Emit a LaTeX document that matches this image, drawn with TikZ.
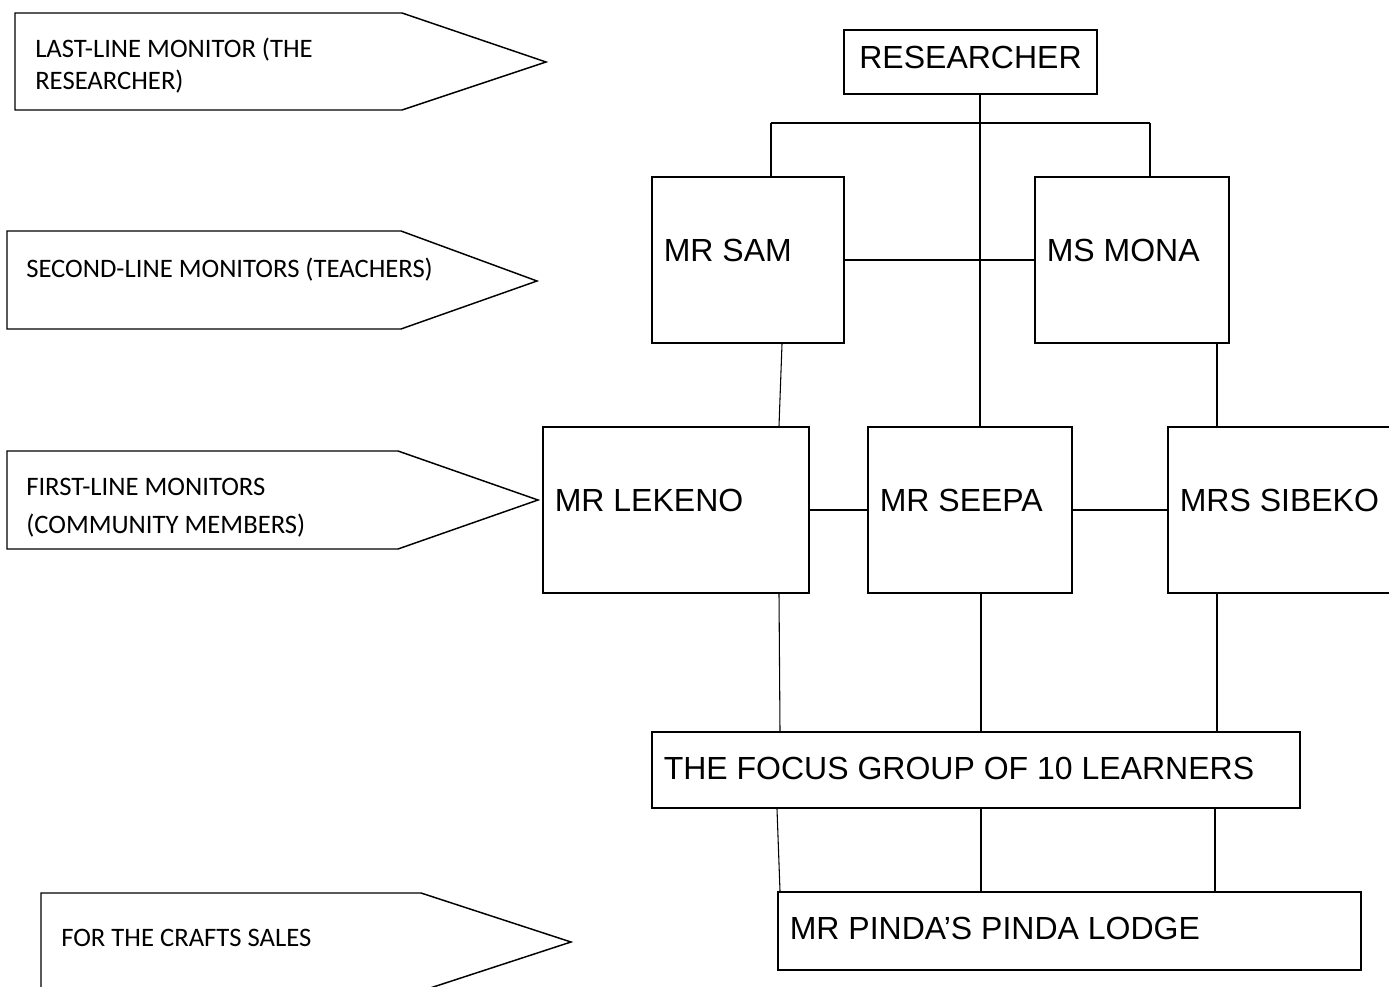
\documentclass[tikz,border=0pt]{standalone}
\usepackage{fontspec}
\setmainfont{Liberation Sans}
\newfontfamily\calfont{Carlito}
\usetikzlibrary{calc}
\begin{document}
\begin{tikzpicture}[x=0.75pt,y=-0.75pt,
  box/.style={draw, line width=1.5pt, inner sep=0pt},
  lbl/.style={anchor=west, inner sep=0pt, font=\fontsize{24}{28}\selectfont, xshift=9.4pt},
  conn/.style={line width=0.8pt},
  tag/.style={draw, line width=1.1pt, line join=miter},
  tagtext/.style={anchor=west, align=left, inner sep=0pt, font=\calfont\fontsize{20}{24}\selectfont}]
\useasboundingbox (0,0) rectangle (1389,987);
\clip (0,0) rectangle (1389,987);

% boxes
\node[box, minimum width=189.75pt, minimum height=48pt,
  label={[inner sep=0pt, font=\fontsize{24}{28}\selectfont, yshift=3.75pt]center:RESEARCHER}] (res) at (970.5,62) {};
\node[box, minimum width=144pt, minimum height=124.5pt,
  label={[lbl, yshift=7.5pt]west:MR SAM}] (sam) at (748,260) {};
\node[box, minimum width=145.5pt, minimum height=124.5pt,
  label={[lbl, yshift=7.5pt]west:MS MONA}] (mona) at (1132,260) {};
\node[box, minimum width=199.5pt, minimum height=124.5pt,
  label={[lbl, yshift=7.5pt]west:MR LEKENO}] (lek) at (676,510) {};
\node[box, minimum width=153pt, minimum height=124.5pt,
  label={[lbl, yshift=7.5pt]west:MR SEEPA}] (seepa) at (970,510) {};
\node[box, minimum width=174pt, minimum height=124.5pt,
  label={[lbl, yshift=7.5pt]west:MRS SIBEKO}] (sib) at (1284,510) {};
\node[box, minimum width=486pt, minimum height=57pt,
  label={[lbl, yshift=1.5pt]west:THE FOCUS GROUP OF 10 LEARNERS}] (focus) at (976,770) {};
\node[box, minimum width=437.25pt, minimum height=58.5pt,
  label={[lbl, yshift=2.25pt]west:MR PINDA’S PINDA LODGE}] (pinda) at (1069.5,931) {};

% connectors
\coordinate (busL) at (771,123);
\coordinate (busR) at (1150,123);
\coordinate (trunk) at (980,123);
\draw[conn] (busL) -- (busR);
\draw[conn] (busL) -- (busL |- sam.north);
\draw[conn] (busR) -- (busR |- mona.north);
\draw[conn] (res.south -| trunk) -- (seepa.north -| trunk);
\draw[conn] (sam.east) -- (mona.west);
\draw[conn] ($(sam.south)+(34,0)$) -- ($(lek.north)+(103,0)$);
\draw[conn] ($(mona.south)+(85,0)$) -- ($(sib.north)+(-67,0)$);
\draw[conn] (lek.east) -- (seepa.west);
\draw[conn] (seepa.east) -- (sib.west);
\draw[conn] ($(lek.south)+(103,0)$) -- ($(focus.north)+(-196,0)$);
\draw[conn] ($(seepa.south)+(11,0)$) -- ($(focus.north)+(5,0)$);
\draw[conn] ($(sib.south)+(-67,0)$) -- ($(focus.north)+(241,0)$);
\draw[conn] ($(focus.south)+(-199,0)$) -- ($(pinda.north)+(-289.5,0)$);
\draw[conn] ($(focus.south)+(5,0)$) -- ($(pinda.north)+(-88.5,0)$);
\draw[conn] ($(focus.south)+(239,0)$) -- ($(pinda.north)+(145.5,0)$);

% left-hand tags
\draw[tag] (15,13) -- (402,13) -- (546,62) -- (402,110) -- (15,110) -- cycle;
\node[tagtext] (t1) at (35,66) {LAST-LINE MONITOR (THE\\RESEARCHER)};
\draw[tag] (7,231) -- (401,231) -- (537,281) -- (401,329) -- (7,329) -- cycle;
\node[tagtext] (t2) at (26,270) {SECOND-LINE MONITORS (TEACHERS)};
\draw[tag] (7,451) -- (398,451) -- (538,500) -- (398,549) -- (7,549) -- cycle;
\node[tagtext, font=\calfont\fontsize{20}{28.5}\selectfont] (t3) at (26,508) {FIRST-LINE MONITORS\\(COMMUNITY MEMBERS)};
\draw[tag] (41,893) -- (421,893) -- (571,942) -- (421,991) -- (41,991) -- cycle;
\node[tagtext] (t4) at (61,938) {FOR THE CRAFTS SALES};
\end{tikzpicture}
\end{document}
